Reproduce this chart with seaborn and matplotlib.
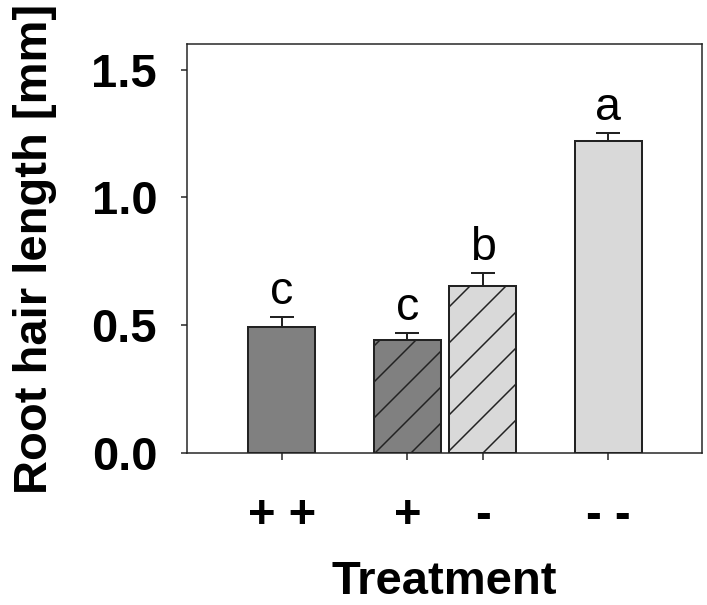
import matplotlib
matplotlib.use("Agg")
import matplotlib.pyplot as plt
import seaborn as sns
import pandas as pd

# values
treatments = ["+ +", "+", "-", "- -"]
positions = [0.0, 1.0, 1.6, 2.6]
means = [0.493, 0.444, 0.653, 1.222]
errors = [0.039, 0.027, 0.052, 0.031]
letters = ["c", "c", "b", "a"]
bar_colors = ["#808080", "#808080", "#d9d9d9", "#d9d9d9"]
hatches = ["", "//", "//", ""]
yticks = [0.0, 0.5, 1.0, 1.5]

DPI = 216
line_col = "#222222"

sns.set_style("ticks")
plt.rcParams["font.family"] = ["Liberation Sans", "DejaVu Sans"]
plt.rcParams["font.weight"] = "bold"
plt.rcParams["hatch.linewidth"] = 0.5
plt.rcParams["text.color"] = "black"
plt.rcParams["axes.labelcolor"] = "black"
plt.rcParams["xtick.color"] = "black"
plt.rcParams["ytick.color"] = "black"

fig = plt.figure(figsize=(707 / DPI, 605 / DPI), dpi=DPI)
ax = fig.add_axes([0.2645, 0.2512, 0.7284, 0.6761])

df = pd.DataFrame({"pos": positions, "length": means, "treatment": treatments})
sns.barplot(data=df, x="pos", y="length", hue="treatment",
            palette=dict(zip(treatments, bar_colors)), native_scale=True,
            width=0.53 / 0.6, dodge=False, saturation=1, errorbar=None,
            legend=False, edgecolor=line_col, linewidth=0.67, ax=ax)

for patch, h in zip(ax.patches, hatches):
    patch.set_hatch(h)

# one-sided error bars (upper only)
ax.errorbar(positions, means, yerr=[[0] * len(errors), errors], fmt="none",
            ecolor=line_col, elinewidth=0.67, capsize=4, capthick=0.67, zorder=1)

for x, m, e, t in zip(positions, means, errors, letters):
    ax.text(x, m + e + 0.05, t, ha="center", va="baseline",
            fontsize=15.5, fontweight="normal", color="black")

ax.set_xlim(-0.754, 3.346)
ax.set_ylim(0, 1.6)
ax.set_xticks(positions, treatments)
ax.set_yticks(yticks, [f"{v:.1f}" for v in yticks])
ax.tick_params(axis="x", length=2.3, width=0.5, pad=11.3, labelsize=15.7, color=line_col)
ax.tick_params(axis="y", length=2.0, width=0.5, pad=8, labelsize=15.7, color=line_col)

for s in ax.spines.values():
    s.set_linewidth(0.5)
    s.set_color(line_col)

ax.set_xlabel("Treatment", fontsize=15.7, fontweight="bold")
ax.set_ylabel("Root hair length [mm]", fontsize=15.7, fontweight="bold")
ax.xaxis.set_label_coords(0.5, -0.2616)
ax.yaxis.set_label_coords(-0.2524, 0.5)

fig.savefig("out.png", dpi=DPI)
